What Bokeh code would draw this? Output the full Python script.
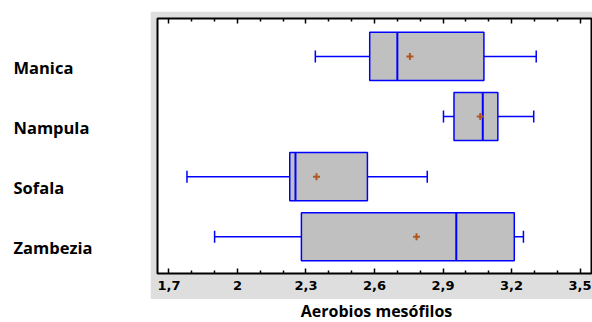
import numpy as np
from bokeh.plotting import figure
from bokeh.layouts import column, row
from bokeh.models import Range1d, FixedTicker, LinearAxis, ColumnDataSource, Spacer
from bokeh.core.properties import value
from bokeh.embed import file_html
from bokeh.resources import INLINE

categories = ["Manica", "Nampula", "Sofala", "Zambezia"]
cat_pos = [4, 3, 2, 1]
mins = [2.341, 2.902, 1.779, 1.900]
q1s = [2.579, 2.948, 2.229, 2.280]
medians = [2.700, 3.074, 2.254, 2.958]
means = [2.755, 3.063, 2.346, 2.784]
q3s = [3.079, 3.140, 2.569, 3.212]
maxs = [3.308, 3.297, 2.831, 3.252]

major_ticks = [1.7, 2.0, 2.3, 2.6, 2.9, 3.2, 3.5]
tick_labels = ["1,7", "2", "2,3", "2,6", "2,9", "3,2", "3,5"]
x_title = "Aerobios mesófilos"

BOX_H = 0.8
CAP_H = 0.2
GRAY = "#dedede"
BLUE = "#0000ff"

src = ColumnDataSource(dict(
    y=cat_pos, mins=mins, q1=q1s, med=medians, mean=means, q3=q3s, maxs=maxs,
    y0=[v - BOX_H / 2 for v in cat_pos], y1=[v + BOX_H / 2 for v in cat_pos],
    c0=[v - CAP_H / 2 for v in cat_pos], c1=[v + CAP_H / 2 for v in cat_pos],
))

y_range = Range1d(0.39, 4.63)

# ---- main plot (gray band + frame) ----
p = figure(width=442, height=288, output_backend="svg", toolbar_location=None,
           title=None, x_range=Range1d(1.65, 3.55), y_range=y_range,
           x_axis_location="below", y_axis_location=None,
           min_border_left=7, min_border_right=1, min_border_top=7,
           min_border_bottom=26)
p.border_fill_color = GRAY
p.background_fill_color = "white"
p.outline_line_color = "black"
p.outline_line_width = 2
p.xgrid.visible = False
p.ygrid.visible = False

minor = [round(v, 1) for v in np.arange(1.7, 3.55, 0.1) if round(v, 1) not in major_ticks]
ticker = FixedTicker(ticks=major_ticks, minor_ticks=minor)
overrides = {float(t): l for t, l in zip(major_ticks, tick_labels)}

xa = p.xaxis[0]
xa.ticker = ticker
xa.major_label_overrides = overrides
xa.major_tick_in = 5
xa.major_tick_out = 0
xa.minor_tick_in = 3
xa.minor_tick_out = 0
xa.major_tick_line_width = 1.5
xa.minor_tick_line_width = 1.5
xa.major_tick_line_color = "black"
xa.minor_tick_line_color = "black"
xa.axis_line_color = None
xa.major_label_text_font = "DejaVu Sans"
xa.major_label_text_font_style = "bold"
xa.major_label_text_font_size = "13px"
xa.major_label_text_color = "black"
xa.major_label_standoff = 7

ta = LinearAxis(ticker=ticker, major_label_text_color=None,
                major_label_standoff=0, major_tick_in=5, major_tick_out=0,
                minor_tick_in=3, minor_tick_out=0, axis_line_color=None,
                major_tick_line_width=1.5, minor_tick_line_width=1.5,
                major_tick_line_color="black", minor_tick_line_color="black")
p.add_layout(ta, "above")

p.hbar(y="y", left="q1", right="q3", height=BOX_H, source=src,
       fill_color="#c0c0c0", line_color=BLUE, line_width=1.5)
p.segment(x0="mins", y0="y", x1="q1", y1="y", source=src, line_color=BLUE, line_width=1.5)
p.segment(x0="q3", y0="y", x1="maxs", y1="y", source=src, line_color=BLUE, line_width=1.5)
p.segment(x0="mins", y0="c0", x1="mins", y1="c1", source=src, line_color=BLUE, line_width=1.5)
p.segment(x0="maxs", y0="c0", x1="maxs", y1="c1", source=src, line_color=BLUE, line_width=1.5)
p.segment(x0="med", y0="y0", x1="med", y1="y1", source=src, line_color=BLUE, line_width=2)
p.scatter(x="mean", y="y", source=src, marker="cross", size=7, line_width=2,
          line_color="#b0561e")

# ---- left category labels ----
lp = figure(width=150, height=288, output_backend="svg", toolbar_location=None,
            title=None, x_range=Range1d(0, 150), y_range=y_range,
            x_axis_location=None, y_axis_location=None,
            min_border_left=0, min_border_right=0, min_border_top=7,
            min_border_bottom=26)
lp.outline_line_color = None
lp.xgrid.visible = False
lp.ygrid.visible = False
lsrc = ColumnDataSource(dict(x=[13] * len(categories), y=cat_pos, t=categories))
lp.text(x="x", y="y", text="t", source=lsrc, y_offset=11,
        text_font=value("Open Sans"), text_font_style="bold", text_font_size="16.5px",
        text_color="black", text_baseline="middle", text_align="left")

# ---- axis title below ----
tp = figure(width=592, height=23, output_backend="svg", toolbar_location=None,
            title=None, x_range=Range1d(0, 592), y_range=Range1d(0, 23),
            x_axis_location=None, y_axis_location=None,
            min_border_left=0, min_border_right=0, min_border_top=0,
            min_border_bottom=0)
tp.outline_line_color = None
tp.xgrid.visible = False
tp.ygrid.visible = False
tsrc = ColumnDataSource(dict(x=[376], y=[11.5], t=[x_title]))
tp.text(x="x", y="y", text="t", source=tsrc,
        text_font=value("Open Sans"), text_font_style="bold", text_font_size="16px",
        text_color="black", text_baseline="middle", text_align="center")

layout = column(Spacer(width=592, height=11), row(lp, p, spacing=0), tp, spacing=0)

open("out.html", "w").write(file_html(layout, INLINE))
